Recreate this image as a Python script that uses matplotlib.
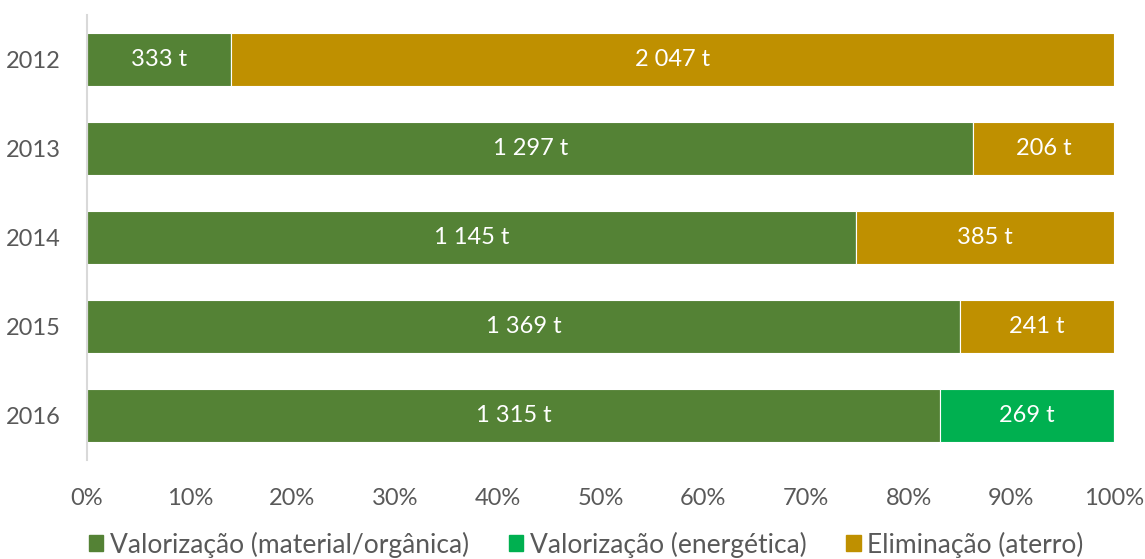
import matplotlib.pyplot as plt
from matplotlib.patches import Patch

years = ['2012', '2013', '2014', '2015', '2016']
val_material = [333, 1297, 1145, 1369, 1315]
val_energetica = [0, 0, 0, 0, 269]
eliminacao = [2047, 206, 385, 241, 0]
series_names = ['Valorização (material/orgânica)', 'Valorização (energética)', 'Eliminação (aterro)']
colors = ['#548235', '#00B050', '#BF9000']
grey = '#595959'


def fmt(v):
    return f'{v:,}'.replace(',', ' ') + ' t'


def main():
    plt.rcParams['font.family'] = ['Lato', 'DejaVu Sans']
    fig = plt.figure(figsize=(11.45, 5.59), dpi=100)
    ax = fig.add_axes([0.076, 0.177, 0.897, 0.796])

    series = [val_material, val_energetica, eliminacao]
    totals = [sum(s[i] for s in series) for i in range(len(years))]
    ypos = list(range(len(years)))
    left = [0.0] * len(years)
    for vals, c in zip(series, colors):
        pct = [v / t * 100 for v, t in zip(vals, totals)]
        ax.barh(ypos, pct, left=left, height=0.6, color=c, edgecolor='white', linewidth=0.8)
        for i, (p, v) in enumerate(zip(pct, vals)):
            if v > 0:
                ax.text(left[i] + p / 2, i, fmt(v), ha='center', va='center',
                        color='white', fontsize=17)
        left = [l + p for l, p in zip(left, pct)]

    ax.set_xlim(0, 100)
    ax.set_ylim(len(years) - 0.5, -0.5)
    ax.set_yticks(ypos)
    ax.set_yticklabels(years)
    ax.set_xticks(range(0, 101, 10))
    ax.set_xticklabels([f'{x}%' for x in range(0, 101, 10)])
    ax.tick_params(axis='both', length=0, colors=grey, labelsize=17)
    ax.tick_params(axis='x', pad=20)
    ax.tick_params(axis='y', pad=19)
    for side in ['top', 'right', 'bottom']:
        ax.spines[side].set_visible(False)
    ax.spines['left'].set_color('#D9D9D9')
    ax.spines['left'].set_linewidth(1.5)

    handles = [Patch(color=c, label=n) for c, n in zip(colors, series_names)]
    leg = fig.legend(handles=handles, loc='center', bbox_to_anchor=(0.512, 0.026), ncol=3,
                     frameon=False, fontsize=19, handlelength=0.55, handleheight=0.55,
                     handletextpad=0.25, columnspacing=1.5)
    for t in leg.get_texts():
        t.set_color(grey)

    fig.savefig('out.png', dpi=100)


if __name__ == '__main__':
    main()
